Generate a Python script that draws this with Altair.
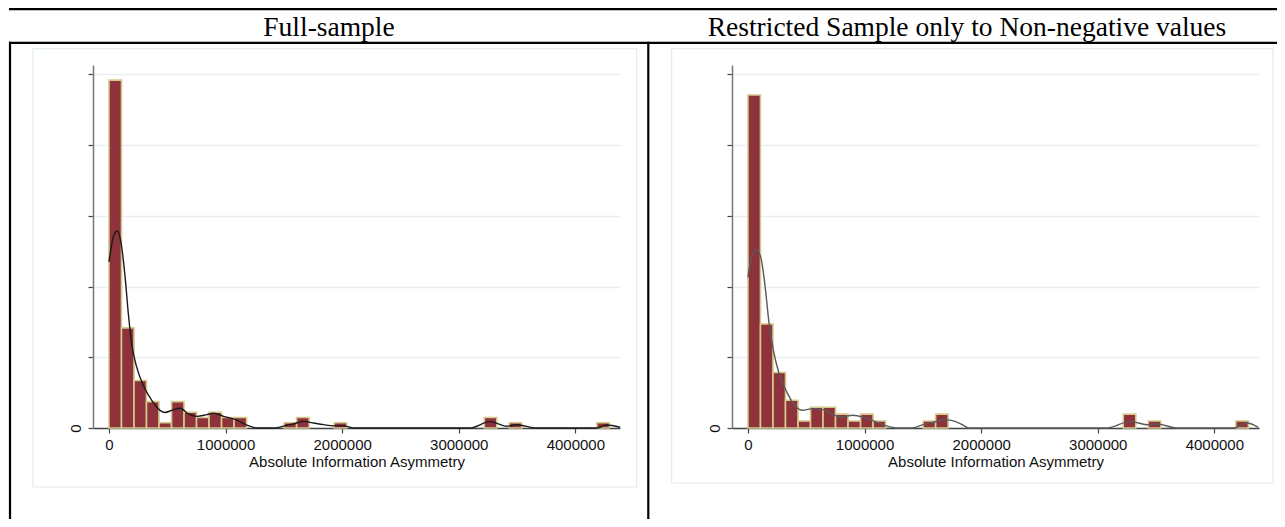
import altair as alt
import pandas as pd

# ---------------- data ----------------
BIN_WIDTH = 107300          # histogram bin width (40 bins)

titles = ["Full-sample", "Restricted Sample only to Non-negative values"]
x_title = "Absolute Information Asymmetry"
x_ticks = [0, 1000000, 2000000, 3000000, 4000000]
y_ticks = [0, 1, 2, 3, 4, 5]          # density, in units of 1e-6

# Full sample: bin index -> count
full_bins = [0, 1, 2, 3, 4, 5, 6, 7, 8, 9, 10, 14, 15, 18, 30, 32, 39]
full_counts = [66, 19, 9, 5, 1, 5, 3, 2, 3, 2, 2, 1, 2, 1, 2, 1, 1]

# Restricted sample: bin index -> count
res_bins = [0, 1, 2, 3, 4, 5, 6, 7, 8, 9, 10, 14, 15, 30, 32, 39]
res_counts = [48, 15, 8, 4, 1, 3, 3, 2, 1, 2, 1, 1, 2, 2, 1, 1]

# Kernel density curves (x in millions, density in 1e-6)
full_kde_x = [0, 0.037, 0.072, 0.109, 0.138, 0.166, 0.195, 0.238, 0.295, 0.367,
              0.438, 0.481, 0.539, 0.610, 0.682, 0.754, 0.840, 0.897, 0.983, 1.097,
              1.183, 1.269, 1.413, 1.527, 1.585, 1.670, 1.756, 1.842, 1.928, 2.014,
              2.100, 3.096, 3.268, 3.411, 3.497, 3.668, 4.183, 4.268, 4.383]
full_kde_y = [2.35, 2.70, 2.79, 2.56, 2.14, 1.62, 1.19, 0.86, 0.60, 0.39,
              0.25, 0.22, 0.25, 0.28, 0.20, 0.165, 0.19, 0.21, 0.165, 0.11,
              0.04, 0.0, 0.0, 0.04, 0.06, 0.094, 0.07, 0.047, 0.03, 0.03,
              0.0, 0.0, 0.09, 0.024, 0.047, 0.0, 0.0, 0.042, 0.01]

res_kde_x = [0, 0.029, 0.066, 0.109, 0.147, 0.181, 0.224, 0.267, 0.339, 0.411,
             0.468, 0.540, 0.641, 0.727, 0.799, 0.899, 1.000, 1.086, 1.187, 1.287,
             1.402, 1.503, 1.603, 1.690, 1.776, 1.848, 1.891, 3.080, 3.279, 3.422,
             3.508, 3.680, 4.165, 4.279, 4.376]
res_kde_y = [2.13, 2.42, 2.53, 2.42, 2.00, 1.48, 1.05, 0.77, 0.49, 0.30,
             0.25, 0.27, 0.26, 0.19, 0.156, 0.18, 0.146, 0.094, 0.03, 0.0,
             0.0, 0.047, 0.085, 0.118, 0.094, 0.038, 0.0, 0.0, 0.094, 0.047,
             0.057, 0.0, 0.0, 0.07, 0.01]

# ---------------- styling ----------------
W, H = 527, 363
BAR_FILL = "#8E323B"
BAR_EDGE = "#D6C98E"
GRID = "#E6EFF1"
FRAME = "#E3ECEF"
SANS = "Liberation Sans, Arial"
SERIF = "Liberation Serif"

x_scale = alt.Scale(domain=[-137000, 4383000], nice=False, zero=False)
y_scale = alt.Scale(domain=[0, 5.134], nice=False, zero=True)

x_axis = alt.Axis(values=x_ticks, format="d", title=x_title, grid=False,
                  labelFont=SANS, labelFontSize=15, labelColor="#111",
                  labelPadding=4, labelFlush=False,
                  titleFont=SANS, titleFontSize=15, titleFontWeight="normal",
                  titleColor="#111", titleBaseline="alphabetic", titleY=38,
                  domainColor="#444", domainWidth=1.3,
                  tickColor="#444", tickSize=5, tickWidth=1.2)
y_axis = alt.Axis(values=y_ticks, title=None, grid=True, gridColor=GRID,
                  gridWidth=1.3,
                  labelExpr="datum.value === 0 ? '0' : ''",
                  labelAngle=270, labelAlign="center", labelBaseline="bottom",
                  labelFont=SANS, labelFontSize=15, labelColor="#111",
                  labelPadding=5,
                  domainColor="#777", domainWidth=1.5,
                  tickColor="#444", tickSize=5, tickWidth=1.2)

one = pd.DataFrame({"d": [0]})


def box(xa, xb, ya, yb, **kw):
    return alt.Chart(one).mark_rect(**kw).encode(
        x=alt.value(xa), x2=alt.value(xb), y=alt.value(ya), y2=alt.value(yb))


def bar_line(xa, xb, ya, yb):
    # table borders drawn as thin filled rectangles (exact bounds)
    return box(xa, xb, ya, yb, fill="black", strokeWidth=0)


def panel(bins, counts, kx, ky, kde_color, title, dec):
    n = sum(counts)
    hist = pd.DataFrame({
        "x0": [b * BIN_WIDTH for b in bins],
        "x1": [(b + 1) * BIN_WIDTH for b in bins],
        "density": [c / (n * BIN_WIDTH) * 1e6 for c in counts],
    })
    kde = pd.DataFrame({"x0": [v * 1e6 for v in kx], "density": ky})

    bars = alt.Chart(hist).mark_rect(fill=BAR_FILL, stroke=BAR_EDGE,
                                     strokeWidth=1.6).encode(
        x=alt.X("x0:Q", scale=x_scale, axis=x_axis),
        x2="x1:Q",
        y=alt.Y("density:Q", scale=y_scale, axis=y_axis),
        y2=alt.datum(0),
    )
    line = alt.Chart(kde).mark_line(color=kde_color, strokeWidth=1.4,
                                    interpolate="monotone").encode(
        x=alt.X("x0:Q", scale=x_scale, axis=x_axis),
        y=alt.Y("density:Q", scale=y_scale, axis=y_axis),
    )
    lx0, lx1 = dec["lx"]
    layers = [
        box(dec["bx"][0], dec["bx"][1], -57, 454, opacity=0),
        box(dec["fx"][0], dec["fx"][1], -16.3, dec["fy"], fillOpacity=0,
            stroke=FRAME, strokeWidth=1.2),
        bar_line(lx0, lx1, -57, -54.7),       # top rule of the table
        bar_line(lx0, lx1, -23.3, -21.1),     # rule under the headers
    ]
    for vx in dec["vx"]:
        layers.append(bar_line(vx - 1.1, vx + 1.1, -23.3, 454))
    layers.append(alt.Chart(one).mark_text(
        text=title, font=SERIF, fontSize=27.5, align="center",
        baseline="alphabetic", color="black").encode(
        x=alt.value(dec["tx"]), y=alt.value(-29.5)))
    layers += [bars, line]
    return alt.layer(*layers).properties(width=W, height=H)


left = panel(full_bins, full_counts, full_kde_x, full_kde_y, "#1A1A1A", titles[0],
             {"bx": (-85, 557), "fx": (-60, 543.7), "fy": 422,
              "lx": (-84, 557), "vx": [-83, 555.3], "tx": 236})
right = panel(res_bins, res_counts, res_kde_x, res_kde_y, "#5A5A5A", titles[1],
              {"bx": (-82, 545), "fx": (-60.3, 541), "fy": 418,
               "lx": (-82, 545), "vx": [], "tx": 235})

chart = alt.hconcat(left, right, spacing=0).properties(
    padding=0
).configure_view(stroke=None)

chart.save("out.html", embed_options={"renderer": "svg", "actions": False})
